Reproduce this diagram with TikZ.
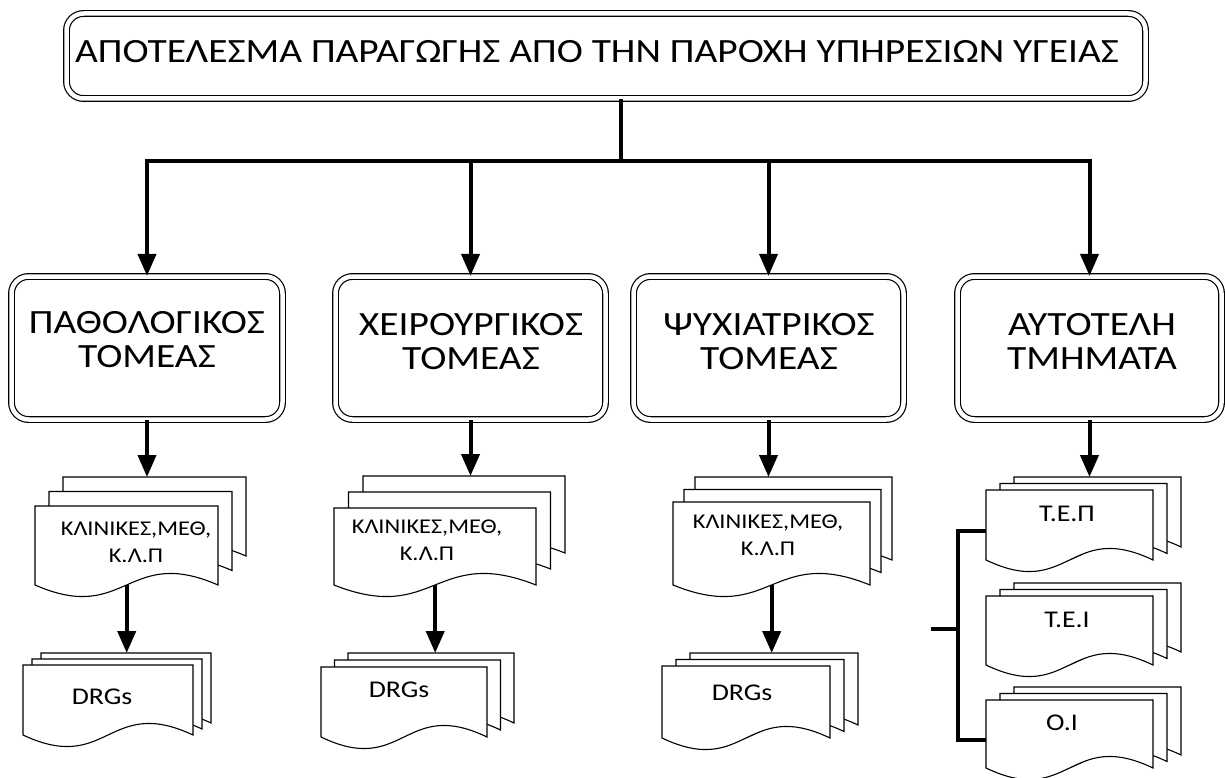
\documentclass[tikz,border=0pt]{standalone}
\usepackage{fontspec}
\setmainfont{Carlito}[FakeStretch=1.16]
\usetikzlibrary{arrows.meta,calc}
\tikzset{
  dblbox/.style={draw, double, double distance=4.5pt, line width=1.2pt, rounded corners=17pt, inner sep=0pt},
  docline/.style={draw, fill=white, line width=1.1pt, line join=miter},
  thickline/.style={line width=4pt},
  arr/.style={line width=4pt, -{Triangle[length=22pt,width=18pt]}},
  toptxt/.style={font=\fontsize{34}{40}\selectfont, inner sep=0pt, text depth=0pt},
  sectxt/.style={font=\fontsize{34}{34}\selectfont, align=center, inner sep=0pt, text depth=0pt},
  klintxt/.style={font=\fontsize{21}{27}\selectfont, align=center, inner sep=0pt, text depth=0pt},
  drgtxt/.style={font=\fontsize{24}{30}\selectfont, inner sep=0pt, text depth=0pt}
}
% one page of a document shape: x0, ytop, x1, yb
\newcommand\docpage[4]{%
  \path[docline] (#1,#2) -- (#3,#2) -- (#3,#4)
    .. controls ({(#1+#3)/2},{#4-40}) and ({(#1+#3)/2},{#4+40}) .. (#1,#4) -- cycle;}
% stack of three pages: name, x0, ytop, w, h, dx, dy
\newcommand\multidoc[7]{%
  \docpage{#2+2*#6}{#3-2*#7}{#2+2*#6+#4}{#3-2*#7+#5}
  \docpage{#2+#6}{#3-#7}{#2+#6+#4}{#3-#7+#5}
  \docpage{#2}{#3}{#2+#4}{#3+#5}
  \node[inner sep=0pt, minimum width=#4pt, minimum height=#5pt, anchor=north west] (#1) at (#2,#3) {};
  \coordinate (#1-top) at ({#2+2*#6+#4/2},{#3-2*#7});}
\begin{document}
\begin{tikzpicture}[x=1pt,y=-1pt]
\useasboundingbox (0,0) rectangle (1225,778);

% top box
\node[dblbox, minimum width=1079pt, minimum height=85pt] (top) at (606,56) {};
\node[toptxt] (toptext) at (597,51) {ΑΠΟΤΕΛΕΣΜΑ ΠΑΡΑΓΩΓΗΣ ΑΠΟ ΤΗΝ ΠΑΡΟΧΗ ΥΠΗΡΕΣΙΩΝ ΥΓΕΙΑΣ};

% sector boxes
\node[dblbox, minimum width=271pt, minimum height=143pt] (b1) at (147,348) {};
\node[dblbox, minimum width=270pt, minimum height=143pt] (b2) at (470.5,348) {};
\node[dblbox, minimum width=270pt, minimum height=143pt] (b3) at (768.5,348) {};
\node[dblbox, minimum width=264pt, minimum height=143pt] (b4) at (1089.5,348) {};
\node[sectxt] (t1) at (147,339) {ΠΑΘΟΛΟΓΙΚΟΣ\\ΤΟΜΕΑΣ};
\node[sectxt] (t2) at (471,341) {ΧΕΙΡΟΥΡΓΙΚΟΣ\\ΤΟΜΕΑΣ};
\node[sectxt] (t3) at (769,341) {ΨΥΧΙΑΤΡΙΚΟΣ\\ΤΟΜΕΑΣ};
\node[sectxt] (t4) at (1092,341) {ΑΥΤΟΤΕΛΗ\\ΤΜΗΜΑΤΑ};

% tree connectors
\coordinate (hub) at (621,161);
\draw[thickline] (top.south -| hub) -- (hub);
\draw[thickline, line cap=rect] (b1.north |- hub) -- (b4.north |- hub);
\foreach \b in {b1,b2,b3,b4} \draw[arr] (\b.north |- hub) -- (\b.north);

% document stacks
\multidoc{d1}{35}{506}{183}{79}{14}{14.5}
\multidoc{d2}{334}{508}{202}{77}{14.5}{16}
\multidoc{d3}{673}{502}{197}{83}{11}{12.5}
\multidoc{r1}{23}{665}{170}{70}{9}{6}
\multidoc{r2}{321}{667}{166}{70}{13.5}{7}
\multidoc{r3}{662}{666}{168}{72}{14}{6.5}
\multidoc{e1}{986}{490}{167}{70}{14}{6.5}
\multidoc{e2}{986}{596}{167}{69}{14}{6.5}
\multidoc{e3}{986}{700}{167}{68}{14}{6.5}

\node[klintxt] (k1) at (136,542) {ΚΛΙΝΙΚΕΣ,ΜΕΘ,\\Κ.Λ.Π};
\node[klintxt] (k2) at (427,540) {ΚΛΙΝΙΚΕΣ,ΜΕΘ,\\Κ.Λ.Π};
\node[klintxt] (k3) at (768,535) {ΚΛΙΝΙΚΕΣ,ΜΕΘ,\\Κ.Λ.Π};
\node[drgtxt] (g1) at (102,697) {DRGs};
\node[drgtxt] (g2) at (399,690) {DRGs};
\node[drgtxt] (g3) at (742,693) {DRGs};
\node[drgtxt] (s1) at (1067,514) {Τ.Ε.Π};
\node[drgtxt] (s2) at (1067,620) {Τ.Ε.Ι};
\node[drgtxt] (s3) at (1062,723) {Ο.Ι};

% arrows boxes -> documents
\draw[arr] (b1.south) -- (b1.south |- d1-top);
\draw[arr] (b2.south) -- (b2.south |- d2-top);
\draw[arr] (b3.south) -- (b3.south |- d3-top);
\draw[arr] (b4.south) -- (b4.south |- e1-top);
\draw[arr] (d1.south) -- (d1.south |- r1-top);
\draw[arr] (d2.south) -- (d2.south |- r2-top);
\draw[arr] (d3.south) -- (d3.south |- r3-top);

% bracket
\coordinate (stub) at (931,629);
\coordinate (spine) at (958,629);
\draw[thickline, line join=miter] ([yshift=-6pt]e1.west) -| (spine) |- ([yshift=-6pt]e3.west);
\draw[thickline] (stub) -- (spine);
\end{tikzpicture}
\end{document}
